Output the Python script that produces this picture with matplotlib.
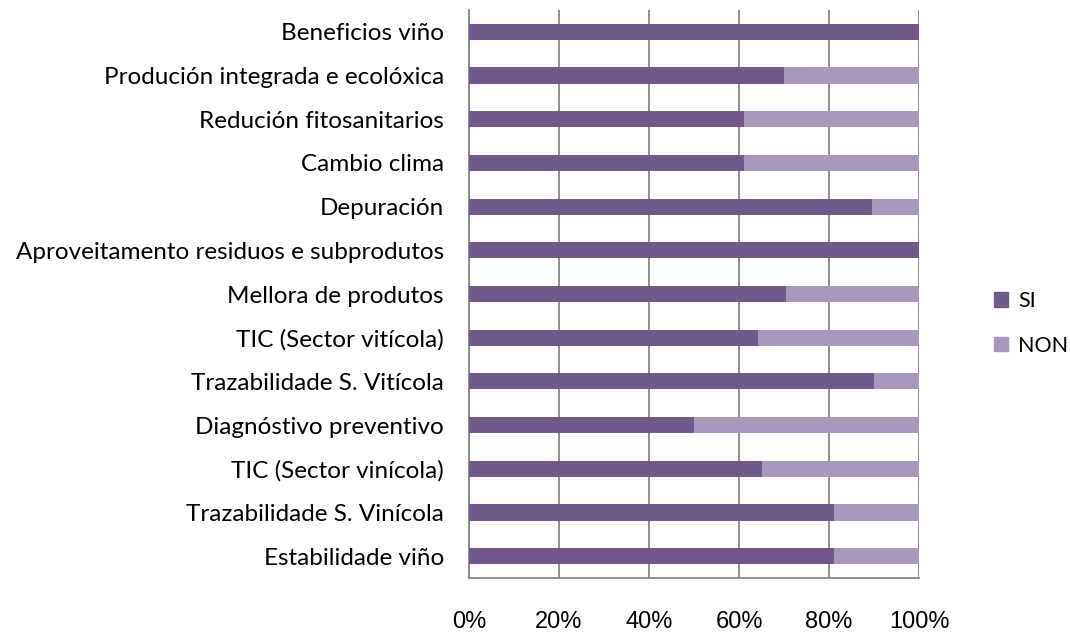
import numpy as np
import matplotlib.pyplot as plt
from matplotlib.patches import Patch

# ==============================
# DATA
# ==============================

categories = [
    "Beneficios viño",
    "Produción integrada e ecolóxica",
    "Redución fitosanitarios",
    "Cambio clima",
    "Depuración",
    "Aproveitamento residuos e subprodutos",
    "Mellora de produtos",
    "TIC (Sector vitícola)",
    "Trazabilidade S. Vitícola",
    "Diagnóstivo preventivo",
    "TIC (Sector vinícola)",
    "Trazabilidade S. Vinícola",
    "Estabilidade viño",
]

si_pct = [100, 70, 61.1, 61.1, 89.5, 100, 70.4, 64.3, 90, 50, 65, 81, 81]
non_pct = [0, 30, 38.9, 38.9, 10.5, 0, 29.6, 35.7, 10, 50, 35, 19, 19]

tick_labels = ["0%", "20%", "40%", "60%", "80%", "100%"]

col_si = "#72598c"
col_non = "#a898be"
grid_col = "#868686"

# ==============================
# FIGURE
# ==============================

fig = plt.figure(figsize=(10.7, 6.34), dpi=100)
ax = fig.add_axes([0.4383, 0.0883, 0.4206, 0.8959])

y = np.arange(len(categories))
si = np.array(si_pct) / 100
non = np.array(non_pct) / 100

ax.barh(y, si, height=0.37, color=col_si, zorder=3)
ax.barh(y, non, left=si, height=0.37, color=col_non, zorder=3)

ax.set_ylim(len(categories) - 0.5, -0.5)
ax.set_xlim(0, 1)

ax.set_yticks(y)
ax.set_yticklabels(categories, fontfamily="Lato", fontsize=17.5)
ax.set_xticks(np.linspace(0, 1, 6))
ax.set_xticklabels(tick_labels, fontfamily="Liberation Sans", fontsize=17)
ax.tick_params(axis="y", length=0, pad=18)
ax.tick_params(axis="x", length=0, pad=24)

ax.xaxis.grid(True, color=grid_col, linewidth=1.3, zorder=0)
for side in ["top", "right"]:
    ax.spines[side].set_visible(False)
for side in ["left", "bottom"]:
    ax.spines[side].set_color(grid_col)
    ax.spines[side].set_linewidth(1.3)

handles = [Patch(color=col_si, label="SI"), Patch(color=col_non, label="NON")]
fig.legend(handles=handles, loc="center left", bbox_to_anchor=(0.911, 0.49),
           frameon=False, handlelength=0.65, handleheight=0.65,
           handletextpad=0.45, labelspacing=1.15,
           prop={"family": "Lato", "size": 15.5})

fig.savefig("out.png", dpi=100)
